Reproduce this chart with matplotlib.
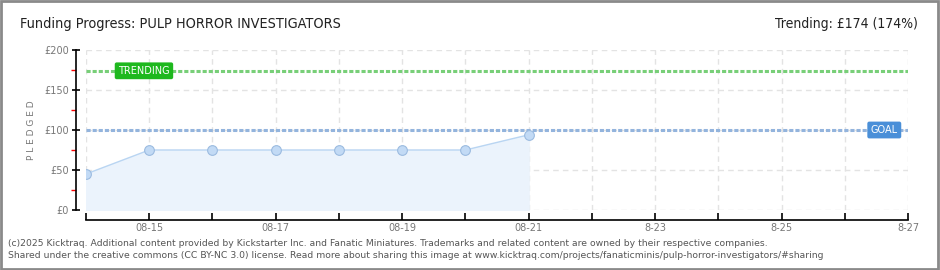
import matplotlib
matplotlib.use('Agg')
import matplotlib.pyplot as plt
import pandas as pd

# Data
dates = ['2025-08-14', '2025-08-15', '2025-08-16', '2025-08-17',
         '2025-08-18', '2025-08-19', '2025-08-20', '2025-08-21']
pledged = [45, 75, 75, 75, 75, 75, 75, 94]
goal = 100
trending = 174
x_start, x_end = '2025-08-14', '2025-08-27'
label_days = ['2025-08-15', '2025-08-17', '2025-08-19', '2025-08-21',
              '2025-08-23', '2025-08-25', '2025-08-27']
label_text = ['08-15', '08-17', '08-19', '08-21', '8-23', '8-25', '8-27']
y_ticks = [0, 50, 100, 150, 200]
y_minor = [25, 75, 125, 175]

d = pd.to_datetime(dates)
fig = plt.figure(figsize=(9.4, 2.7), dpi=100)
ax = fig.add_axes([86/940, 1-210/270, (908-86)/940, 160/270])

# gridlines
all_days = pd.date_range(x_start, x_end)
for day in all_days:
    ax.axvline(day, color='#e3e3e3', lw=1, ls=(0, (4, 3)), zorder=0)
for v in y_ticks:
    ax.axhline(v, color='#e3e3e3', lw=1, ls=(0, (4, 3)), zorder=0)

# pledged series
ax.fill_between(d, pledged, 0, color='#ebf3fc', zorder=1)
ax.plot(d, pledged, color='#b9d5f2', lw=1, zorder=2)
ax.plot(d, pledged, 'o', ms=7, mfc='#c2daf5', mec='#9bbbe0', mew=0.8, zorder=3)

# goal and trending lines
ax.axhline(trending, color='#78cf78', lw=2.2, ls=(0, (1.35, 0.65)), zorder=2)
ax.axhline(goal, color='#93b4dd', lw=2.2, ls=(0, (1.35, 0.65)), zorder=2)

ax.text(pd.Timestamp('2025-08-14') + pd.Timedelta(hours=22), trending, 'TRENDING',
        color='white', fontsize=7, va='center', ha='center',
        bbox=dict(boxstyle='round,pad=0.35,rounding_size=0.2', fc='#1eb81e', ec='none'),
        zorder=5)
ax.text(pd.Timestamp('2025-08-26') + pd.Timedelta(hours=15), goal, 'GOAL',
        color='white', fontsize=7, va='center', ha='center',
        bbox=dict(boxstyle='round,pad=0.35,rounding_size=0.2', fc='#4a8fd8', ec='none'),
        zorder=5)

ax.set_xlim(pd.Timestamp(x_start), pd.Timestamp(x_end))
ax.set_ylim(0, 200)

# axes look
for s in ['top', 'right']:
    ax.spines[s].set_visible(False)
ax.spines['left'].set_position(('outward', 7.2))
ax.spines['bottom'].set_position(('outward', 7.2))
ax.spines['left'].set_linewidth(1.2)
ax.spines['bottom'].set_linewidth(1.2)

ax.set_xticks(all_days, minor=True)
ax.set_xticks(pd.to_datetime(label_days))
ax.set_xticklabels(label_text)
ax.set_yticks(y_ticks)
ax.set_yticklabels(['£%d' % v for v in y_ticks])
ax.set_yticks(y_minor, minor=True)
ax.tick_params(axis='y', which='minor', length=3.5, color='red', width=1)
ax.tick_params(axis='y', which='major', length=6, width=1.2, direction='inout',
               labelsize=7, labelcolor='#777777', pad=2)
ax.tick_params(axis='x', which='both', length=5, width=1.2, direction='in',
               labelsize=7, labelcolor='#777777', pad=2)
ax.set_ylabel('P L E D G E D', fontsize=6.5, color='#777777', labelpad=6)

# header and footer text
fig.text(20/940, 1-24/270, 'Funding Progress: PULP HORROR INVESTIGATORS',
         fontsize=10.4, family='DejaVu Sans', stretch='condensed',
         color='#222222', va='center', ha='left')
fig.text(918/940, 1-24/270, 'Trending: £174 (174%)',
         fontsize=10, family='DejaVu Sans', stretch='condensed',
         color='#222222', va='center', ha='right')
fig.text(8/940, 1-243/270,
         '(c)2025 Kicktraq. Additional content provided by Kickstarter Inc. and Fanatic Miniatures. '
         'Trademarks and related content are owned by their respective companies.',
         fontsize=6.65, color='#555555', va='center')
fig.text(8/940, 1-256/270,
         'Shared under the creative commons (CC BY-NC 3.0) license. Read more about sharing this image at '
         'www.kicktraq.com/projects/fanaticminis/pulp-horror-investigators/#sharing',
         fontsize=6.65, color='#555555', va='center')

# outer border
fig.add_artist(plt.Rectangle((0.001, 0.002), 0.997, 0.995, transform=fig.transFigure,
                             fill=False, ec='#8a8a8a', lw=2))

fig.savefig('out.png', dpi=100)
